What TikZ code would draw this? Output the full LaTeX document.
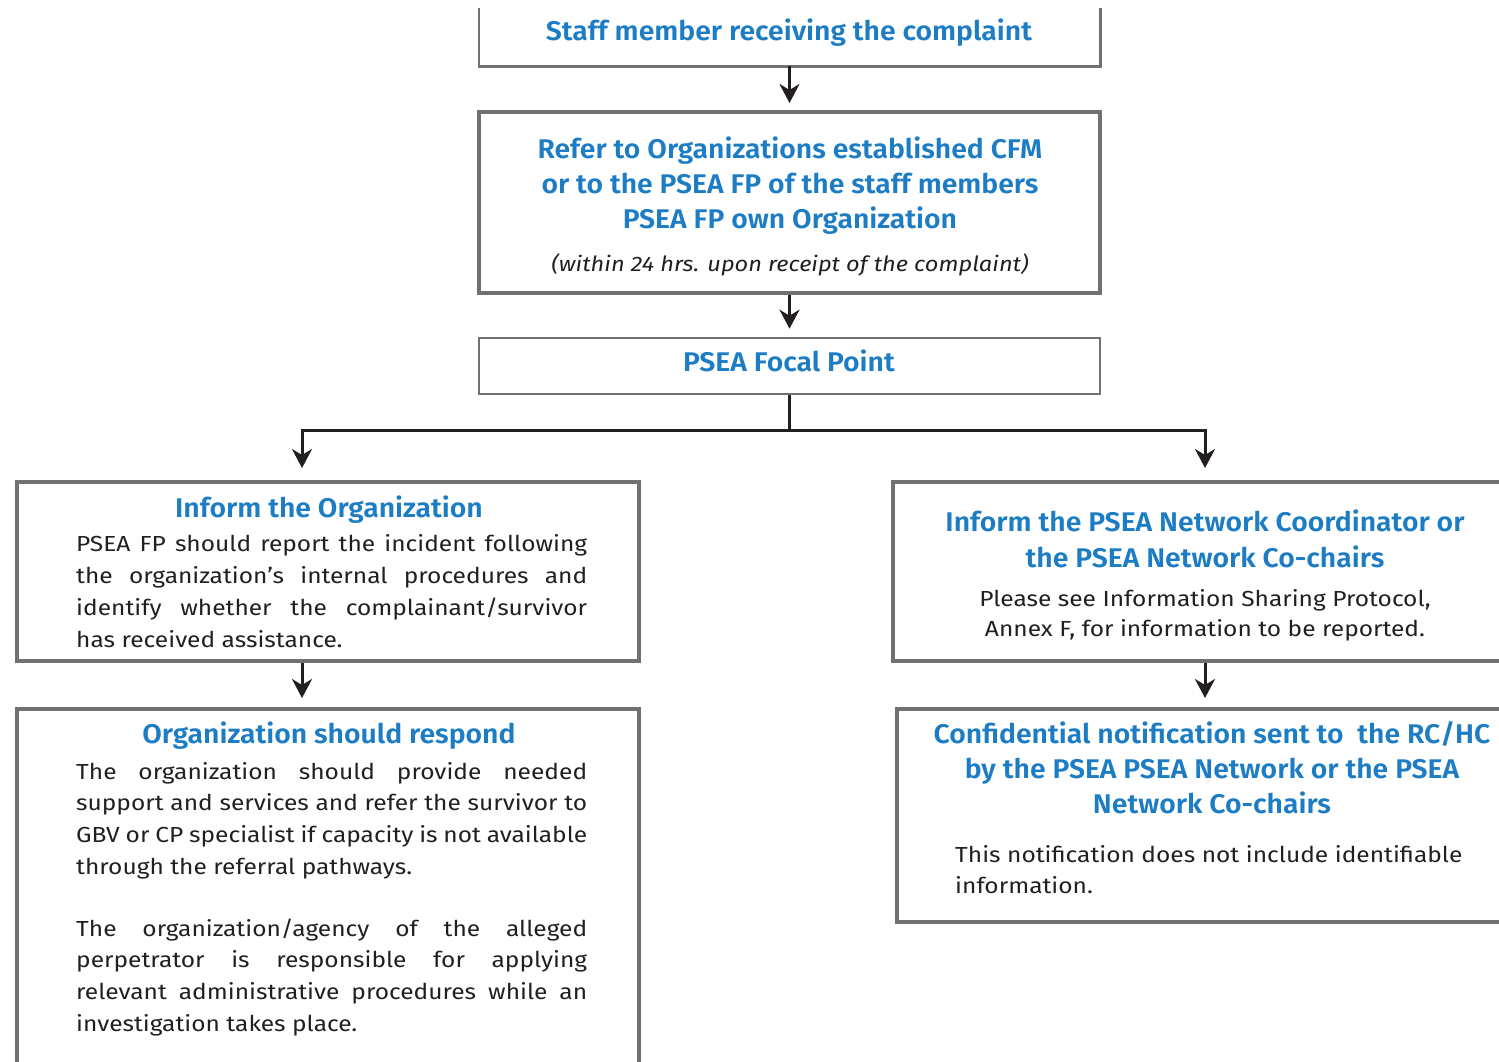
\documentclass[tikz,border=0pt]{standalone}
\usepackage{fontspec}
\setmainfont{Fira Sans}[FakeStretch=1.125]
\newfontfamily\semib{Fira Sans SemiBold}[FakeStretch=1.05]
\usetikzlibrary{arrows.meta}
\definecolor{ublue}{HTML}{1C7CC4}
\definecolor{tblack}{HTML}{231F20}
\definecolor{bgray}{HTML}{707173}
\newcommand{\tsize}{\fontsize{27}{35}\selectfont\semib}
\newcommand{\bsize}{\fontsize{21.8}{31.6}\selectfont}
\tikzset{
  boxthin/.style={draw=bgray, line width=2.6pt, inner sep=0pt},
  boxthick/.style={draw=bgray, line width=4pt, inner sep=0pt},
  boxplain/.style={inner sep=0pt},
  conn/.style={draw=tblack, line width=3pt},
  arr/.style={conn, -{Stealth[length=19pt,width=20pt,inset=6pt]}},
  ttl/.style={text=ublue, font=\tsize, inner sep=0pt, align=center, anchor=base},
  bdy/.style={text=tblack, font=\bsize, inner sep=0pt, anchor=base west, align=left},
  bdyc/.style={text=tblack, font=\fontsize{21.8}{30}\selectfont, inner sep=0pt, anchor=base, align=center},
}
\begin{document}
\begin{tikzpicture}[x=1pt,y=-1pt]
\useasboundingbox (0,0) rectangle (1499,1061);
% boxes
\node[boxplain, minimum width=621pt, minimum height=58pt] (b1) at (789.5,37) {};
\draw[boxthin] (b1.north west) -- (b1.south west) -- (b1.south east) -- (b1.north east);
\node[boxthick, minimum width=621pt, minimum height=181pt] (b2) at (789.5,202.5) {};
\node[boxthin, minimum width=621pt, minimum height=56pt] (b3) at (789.5,366) {};
\node[boxthick, minimum width=622pt, minimum height=179pt] (b4) at (328,571.5) {};
\node[boxthick, minimum width=622pt, minimum height=391pt] (b5) at (328,904.5) {};
\node[boxthick, minimum width=667pt, minimum height=179pt] (b6) at (1226.5,571.5) {};
\node[boxthick, minimum width=663pt, minimum height=213pt] (b7) at (1228.5,815.5) {};
% texts (base anchor = baseline of the last line)
\node[ttl] (t1) at (789,40) {Staff member receiving the complaint};
\node[ttl] (t2) at (790,228) {Refer to Organizations established CFM\\or to the PSEA FP of the staff members\\PSEA FP own Organization};
\node[text=tblack, font=\fontsize{21}{24}\selectfont\itshape, inner sep=0pt, anchor=base] (t2b) at (790,271) {(within 24 hrs. upon receipt of the complaint)};
\node[ttl] (t3) at (789,371) {PSEA Focal Point};
\node[ttl] (t4) at (329,517) {Inform the Organization};
\node[bdy, font=\fontsize{21.8}{32}\selectfont] (t4b) at (76,647) {\makebox[511pt][s]{PSEA FP should report the incident following}\\
\makebox[511pt][s]{the organization’s internal procedures and}\\
\makebox[511pt][s]{identify whether the complainant/survivor}\\
has received assistance.};
\node[ttl] (t5) at (329,743) {Organization should respond};
\node[bdy] (t5b) at (76,874) {\makebox[511pt][s]{The organization should provide needed}\\
\makebox[511pt][s]{support and services and refer the survivor to}\\
\makebox[511pt][s]{GBV or CP specialist if capacity is not available}\\
through the referral pathways.};
\node[bdy] (t5c) at (76,1031) {\makebox[511pt][s]{The organization/agency of the alleged}\\
\makebox[511pt][s]{perpetrator is responsible for applying}\\
\makebox[511pt][s]{relevant administrative procedures while an}\\
investigation takes place.};
\node[ttl, font=\fontsize{27}{36}\selectfont\semib] (t6) at (1205,567) {Inform the PSEA Network Coordinator or\\the PSEA Network Co-chairs};
\node[bdyc] (t6b) at (1205,636) {Please see Information Sharing Protocol,\\Annex F, for information to be reported.};
\node[ttl] (t7) at (1212,813) {Confidential notification sent to\ \ the RC/HC\\by the PSEA PSEA Network or the PSEA\\Network Co-chairs};
\node[bdy, font=\fontsize{21.8}{31}\selectfont] (t7b) at (955,893) {This notification does not include identifiable\\information.};
% connectors
\coordinate (jn) at (b3.south |- 0,430);
\coordinate (jl) at (302,430);
\coordinate (jr) at (1205,430);
\draw[arr, shorten >=7pt] (b1.south) -- (b2.north);
\draw[arr, shorten >=8pt] (b2.south) -- (b3.north);
\draw[conn] (b3.south) -- (jn);
\draw[conn, line cap=rect] (jl) -- (jr);
\draw[arr, shorten >=12pt] (jl) -- (jl |- b4.north);
\draw[arr, shorten >=12pt] (jr) -- (jr |- b6.north);
\draw[arr, shorten >=9pt] (jl |- b4.south) -- (jl |- b5.north);
\draw[arr, shorten >=9pt] (jr |- b6.south) -- (jr |- b7.north);
\end{tikzpicture}
\end{document}
